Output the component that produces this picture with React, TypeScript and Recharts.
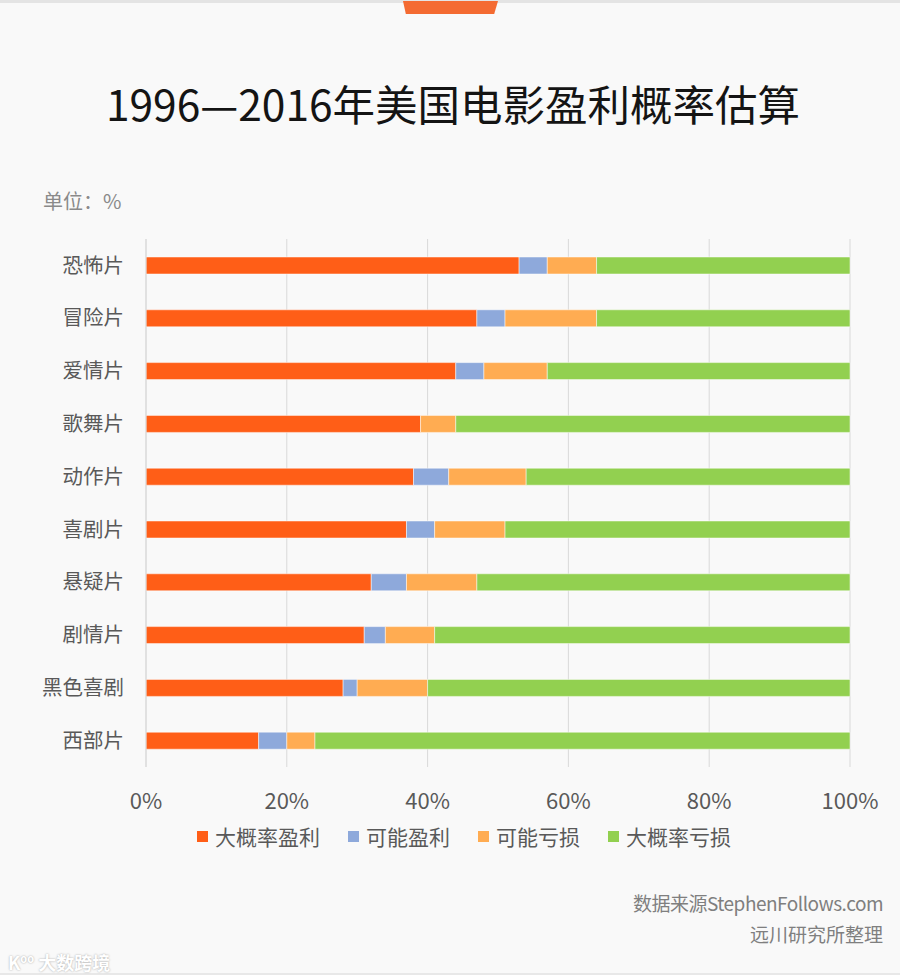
import { Bar, BarChart, CartesianGrid, Legend, XAxis, YAxis } from 'recharts';

// 1996—2016 美国电影盈利概率（%）
const genres = ['恐怖片', '冒险片', '爱情片', '歌舞片', '动作片', '喜剧片', '悬疑片', '剧情片', '黑色喜剧', '西部片'];
const likelyProfit = [53, 47, 44, 39, 38, 37, 32, 31, 28, 16];
const maybeProfit = [4, 4, 4, 0, 5, 4, 5, 3, 2, 4];
const maybeLoss = [7, 13, 9, 5, 11, 10, 10, 7, 10, 4];
const likelyLoss = [36, 36, 43, 56, 46, 49, 53, 59, 60, 76];
const seriesNames = ['大概率盈利', '可能盈利', '可能亏损', '大概率亏损'];
const xTicks = [0, 20, 40, 60, 80, 100];

const orange = '#FF5E17';
const blue = '#8EA9DB';
const amber = '#FFAC52';
const green = '#92D050';
const grey = '#595959';
const font = '"Noto Sans CJK SC", "Noto Sans", sans-serif';

const rows = genres.map((genre, i) => ({
  genre,
  likelyProfit: likelyProfit[i],
  maybeProfit: maybeProfit[i],
  maybeLoss: maybeLoss[i],
  likelyLoss: likelyLoss[i],
}));

function LegendRow({ payload }: any) {
  // keep the series order, recharts sorts legend items by name otherwise
  const items = [...(payload || [])].sort((a: any, b: any) => seriesNames.indexOf(a.value) - seriesNames.indexOf(b.value));
  return (
    <div style={{ display: 'flex', alignItems: 'center', height: 28 }}>
      {items.map((p: any, i: number) => (
        <div key={p.value} style={{ display: 'flex', alignItems: 'center', marginRight: i < items.length - 1 ? 28 : 0 }}>
          <span style={{ display: 'inline-block', width: 11, height: 11, background: p.color, marginRight: 7 }} />
          <span style={{ fontSize: 21, color: grey, lineHeight: '28px', fontFamily: font }}>{p.value}</span>
        </div>
      ))}
    </div>
  );
}

export default function App() {
  const barProps = { stackId: 'a', barSize: 17, stroke: '#ffffff', strokeWidth: 0.7, strokeOpacity: 0.7, isAnimationActive: false };
  return (
    <div style={{ position: 'absolute', left: 0, top: 0, width: 900, height: 975, background: '#F9F9F9', fontFamily: font, overflow: 'hidden' }}>
      <div style={{ position: 'absolute', left: 0, top: 0, width: 900, height: 3, background: '#E4E4E4' }} />
      <div style={{ position: 'absolute', left: 0, bottom: 0, width: 900, height: 2, background: '#E8E8E8' }} />
      <div style={{ position: 'absolute', left: 403, top: 1, width: 95, height: 13, background: '#F46B32', clipPath: 'polygon(0 0, 100% 0, 96% 100%, 3% 100%)' }} />

      <div style={{ position: 'absolute', left: 0, top: 0 }}>
        <BarChart width={900} height={975} data={rows} layout="vertical" margin={{ top: 239, right: 50, bottom: 178, left: 6 }}>
          <CartesianGrid horizontal={false} stroke="#D9D9D9" />
          <XAxis
            type="number"
            domain={[0, 100]}
            ticks={xTicks}
            tickFormatter={(v) => `${v}%`}
            axisLine={false}
            tickLine={false}
            tickSize={0}
            tickMargin={26}
            height={30}
            tick={{ fill: grey, fontSize: 22 }}
          />
          <YAxis
            type="category"
            dataKey="genre"
            width={140}
            interval={0}
            axisLine={{ stroke: '#D9D9D9' }}
            tickLine={false}
            tickSize={6}
            tickMargin={16}
            tick={{ fill: grey, fontSize: 20.5 }}
          />
          <Legend
            content={<LegendRow />}
            layout="horizontal"
            verticalAlign="middle"
            align="center"
            wrapperStyle={{ top: 822, left: 197, width: 600 }}
          />
          <Bar dataKey="likelyProfit" name={seriesNames[0]} fill={orange} {...barProps} />
          <Bar dataKey="maybeProfit" name={seriesNames[1]} fill={blue} {...barProps} />
          <Bar dataKey="maybeLoss" name={seriesNames[2]} fill={amber} {...barProps} />
          <Bar dataKey="likelyLoss" name={seriesNames[3]} fill={green} {...barProps} />
        </BarChart>
      </div>

      <div style={{ position: 'absolute', left: 0, width: 900, top: 75, textAlign: 'center', fontSize: 42.5, lineHeight: '56px', color: '#141414', marginLeft: 3 }}>
        1996—2016年美国电影盈利概率估算
      </div>
      <div style={{ position: 'absolute', left: 43, top: 187, fontSize: 20, lineHeight: '28px', color: '#8A8A8A' }}>单位：%</div>
      <div style={{ position: 'absolute', right: 17, top: 889, fontSize: 19, lineHeight: '28px', color: '#7F7F7F', textAlign: 'right', letterSpacing: -0.5 }}>
        数据来源StephenFollows.com
      </div>
      <div style={{ position: 'absolute', right: 17, top: 920, fontSize: 19, lineHeight: '28px', color: '#7F7F7F', textAlign: 'right' }}>
        远川研究所整理
      </div>
      <div style={{ position: 'absolute', left: 8, top: 945, fontSize: 18, lineHeight: '26px', fontWeight: 700, color: '#FFFFFF', textShadow: '0 0 2px rgba(0,0,0,0.35)' }}>
        K<sup style={{ fontSize: 11 }}>oo</sup> 大数跨境
      </div>
    </div>
  );
}
